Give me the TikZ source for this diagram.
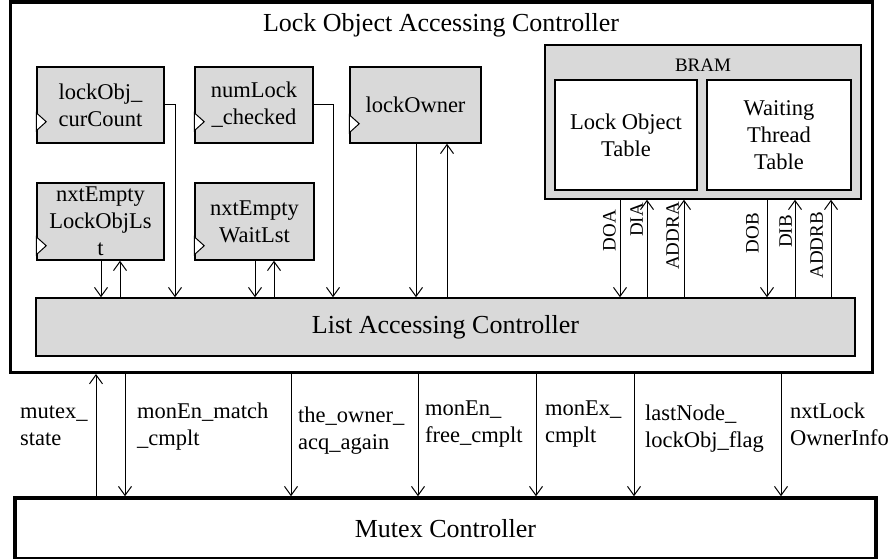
\documentclass[tikz,border=0pt]{standalone}
\usepackage{fontspec}
\setmainfont{Liberation Serif}
\usetikzlibrary{arrows.meta}

\definecolor{regGray}{RGB}{217,217,217}
\newcommand\headfont{\fontsize{26}{31}\selectfont}
\newcommand\lblfont{\fontsize{22.5}{27}\selectfont}
\newcommand\portfont{\fontsize{19}{23}\selectfont}

\begin{document}
\begin{tikzpicture}[x=1pt, y=-1pt,
   reg/.style={draw, line width=1.5pt, fill=regGray, inner sep=0pt, align=center, font=\lblfont},
   tbl/.style={draw, line width=1.5pt, fill=white, inner sep=0pt, align=center, font=\lblfont},
   frame/.style={draw, line width=3.5pt, inner sep=0pt, font=\headfont},
   sig/.style={line width=1pt, -{Straight Barb[length=9pt,width=13pt]}},
   clk/.style={line width=1pt, fill=white},
   port/.style={font=\portfont, rotate=90, anchor=south east, inner sep=0pt},
   sigtxt/.style={font=\lblfont, align=left, anchor=base west, inner sep=0pt}]
   \useasboundingbox (0,0) rectangle (895,559);

   % outer controller and mutex controller
   \node[frame, minimum width=862pt, minimum height=370pt] (loac) at (441.25,187.25) {};
   \node[font=\headfont, anchor=base] (title) at (441,32) {Lock Object Accessing Controller};
   \node[frame, minimum width=861pt, minimum height=61pt] (mutex) at (445.5,528.5) {Mutex Controller};

   % registers
   \node[reg, minimum width=127pt, minimum height=76pt] (curCnt) at (100.5,105) {lockObj\_\\curCount};
   \node[reg, minimum width=118pt, minimum height=76pt] (numChk) at (254,105) {numLock\\\_checked};
   \node[reg, minimum width=131pt, minimum height=76pt] (owner) at (415.5,105) {lockOwner};
   \node[reg, minimum width=127pt, minimum height=77pt] (emptyLock) at (100.5,221.5) {nxtEmpty\\LockObjLs\\t};
   \node[reg, minimum width=119pt, minimum height=77pt] (emptyWait) at (254.5,221.5) {nxtEmpty\\WaitLst};

   \draw[clk] ([yshift=13pt]curCnt.south west) -- ++(10,-9) -- ++(-10,-9) -- cycle;
   \draw[clk] ([yshift=13pt]numChk.south west) -- ++(10,-9) -- ++(-10,-9) -- cycle;
   \draw[clk] ([yshift=11pt]owner.south west) -- ++(10,-9) -- ++(-10,-9) -- cycle;
   \draw[clk] ([yshift=6pt]emptyLock.south west) -- ++(10,-9) -- ++(-10,-9) -- cycle;
   \draw[clk] ([yshift=6pt]emptyWait.south west) -- ++(10,-9) -- ++(-10,-9) -- cycle;

   % BRAM
   \node[reg, minimum width=316pt, minimum height=154pt] (bram) at (703,122) {};
   \node[font=\portfont] (bramLbl) at (703,65) {BRAM};
   \node[tbl, minimum width=142pt, minimum height=110pt] (lockTbl) at (626,135) {Lock Object\\Table};
   \node[tbl, minimum width=144pt, minimum height=110pt] (waitTbl) at (779,135) {Waiting\\Thread\\Table};

   % list accessing controller
   \node[reg, font=\headfont, minimum width=819pt, minimum height=58pt] (lac) at (445.5,327) {List Accessing Controller};

   \draw[sig] (curCnt.east) -| (lac.north -| 175,0);
   \draw[sig] (numChk.east) -| (lac.north -| 333,0);
   \draw[sig] (owner.south -| 416,0) -- (lac.north -| 416,0);
   \draw[sig] (lac.north -| 447,0) -- (owner.south -| 447,0);
   \draw[sig] (emptyLock.south -| 101,0) -- (lac.north -| 101,0);
   \draw[sig] (lac.north -| 120,0) -- (emptyLock.south -| 120,0);
   \draw[sig] (emptyWait.south -| 255,0) -- (lac.north -| 255,0);
   \draw[sig] (lac.north -| 274,0) -- (emptyWait.south -| 274,0);

   % BRAM ports
   \draw[sig] (bram.south -| 620,0) -- (lac.north -| 620,0);
   \node[port] (doa) at (616,210) {DOA};
   \draw[sig] (lac.north -| 647,0) -- (bram.south -| 647,0);
   \node[port] (dia) at (643,203) {DIA};
   \draw[sig] (lac.north -| 684,0) -- (bram.south -| 684,0);
   \node[port] (addra) at (679,202) {ADDRA};
   \draw[sig] (bram.south -| 767,0) -- (lac.north -| 767,0);
   \node[port] (dob) at (759,213) {DOB};
   \draw[sig] (lac.north -| 795,0) -- (bram.south -| 795,0);
   \node[port] (dib) at (792,215) {DIB};
   \draw[sig] (lac.north -| 831,0) -- (bram.south -| 831,0);
   \node[port] (addrb) at (823,212) {ADDRB};

   % signals to the mutex controller
   \draw[sig] (mutex.north -| 96,0) -- (loac.south -| 96,0);
   \node[sigtxt] (mutexSt) at (20,445) {mutex\_\\state};
   \draw[sig] (loac.south -| 125,0) -- (mutex.north -| 125,0);
   \node[sigtxt] (matchCmplt) at (137,445) {monEn\_match\\\_cmplt};
   \draw[sig] (loac.south -| 291,0) -- (mutex.north -| 291,0);
   \node[sigtxt] (ownerAcq) at (298,449) {the\_owner\_\\acq\_again};
   \draw[sig] (loac.south -| 418,0) -- (mutex.north -| 418,0);
   \node[sigtxt] (freeCmplt) at (425,442) {monEn\_\\free\_cmplt};
   \draw[sig] (loac.south -| 536,0) -- (mutex.north -| 536,0);
   \node[sigtxt] (exCmplt) at (545,442) {monEx\_\\cmplt};
   \draw[sig] (loac.south -| 634,0) -- (mutex.north -| 634,0);
   \node[sigtxt] (lastFlag) at (645,447) {lastNode\_\\lockObj\_flag};
   \draw[sig] (loac.south -| 781,0) -- (mutex.north -| 781,0);
   \node[sigtxt] (ownerInfo) at (790,445) {nxtLock\\OwnerInfo};
\end{tikzpicture}
\end{document}
